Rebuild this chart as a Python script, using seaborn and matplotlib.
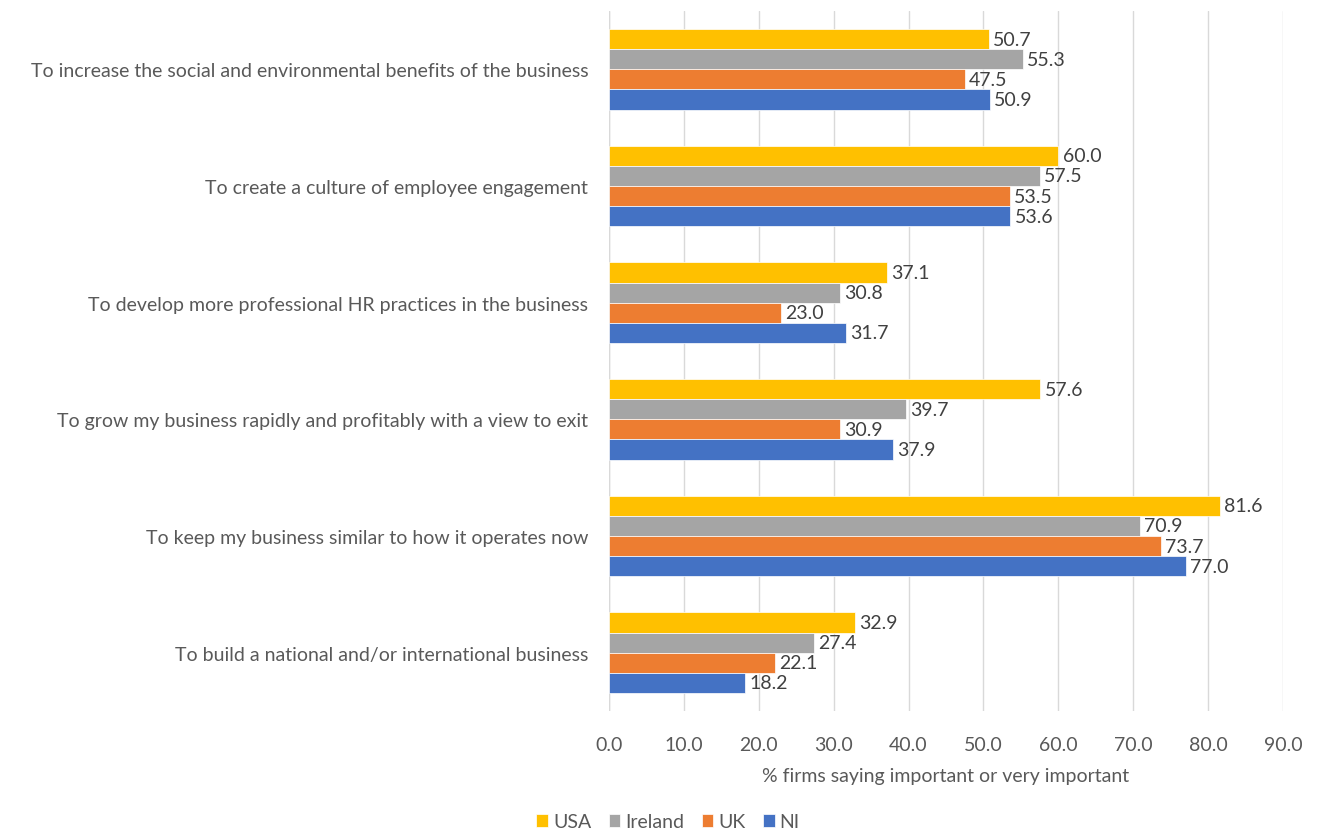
import matplotlib
matplotlib.use("Agg")
import matplotlib.pyplot as plt
import seaborn as sns
import pandas as pd

categories = [
    "To increase the social and environmental benefits of the business",
    "To create a culture of employee engagement",
    "To develop more professional HR practices in the business",
    "To grow my business rapidly and profitably with a view to exit",
    "To keep my business similar to how it operates now",
    "To build a national and/or international business",
]
series = ["USA", "Ireland", "UK", "NI"]
usa = [50.7, 60.0, 37.1, 57.6, 81.6, 32.9]
ireland = [55.3, 57.5, 30.8, 39.7, 70.9, 27.4]
uk = [47.5, 53.5, 23.0, 30.9, 73.7, 22.1]
ni = [50.9, 53.6, 31.7, 37.9, 77.0, 18.2]
xticks = [0, 10, 20, 30, 40, 50, 60, 70, 80, 90]
xlabel = "% firms saying important or very important"

colors = {"USA": "#FFC000", "Ireland": "#A5A5A5", "UK": "#ED7D31", "NI": "#4472C4"}

rows = []
for name, vals in zip(series, [usa, ireland, uk, ni]):
    for cat, v in zip(categories, vals):
        rows.append({"category": cat, "series": name, "value": v})
df = pd.DataFrame(rows)

sns.set_theme(style="white")
plt.rcParams["font.family"] = ["Lato", "DejaVu Sans"]
text_color = "#595959"
fs = 14

fig = plt.figure(figsize=(13.2, 8.37), dpi=100)
ax = fig.add_axes([609 / 1320, 1 - 712 / 837, (1283 - 609) / 1320, 700 / 837])

sns.barplot(data=df, y="category", x="value", hue="series",
            order=categories, hue_order=series, palette=colors,
            orient="h", width=0.69, saturation=1, ax=ax, legend=True,
            linewidth=0.5, edgecolor="white")

for cont in ax.containers:
    ax.bar_label(cont, fmt="%.1f", padding=3, fontsize=fs, color="#404040")

ax.set_xlim(0, 90)
ax.set_ylim(len(categories) - 0.5, -0.5)
ax.set_xticks(xticks)
ax.set_xticklabels([f"{t:.1f}" for t in xticks], fontsize=fs, color=text_color)
ax.tick_params(axis="x", length=0, pad=18)
ax.tick_params(axis="y", length=0, pad=15, labelsize=fs, labelcolor=text_color)
ax.set_xlabel(xlabel, fontsize=fs, color=text_color, labelpad=10)
ax.set_ylabel("")
ax.grid(axis="x", color="#D9D9D9", linewidth=1)
ax.set_axisbelow(True)
for s in ax.spines.values():
    s.set_visible(False)
ax.axvline(0, color="#D9D9D9", linewidth=1, zorder=0)

handles, labels = ax.get_legend_handles_labels()
ax.get_legend().remove()
fig.legend(handles, labels, loc="center", bbox_to_anchor=(668 / 1320, 1 - 823 / 837),
           ncol=4, frameon=False, fontsize=fs, handlelength=0.6, handleheight=0.6,
           handletextpad=0.25, columnspacing=0.9, labelcolor=text_color)

fig.savefig("out.png", dpi=100, facecolor="white")
